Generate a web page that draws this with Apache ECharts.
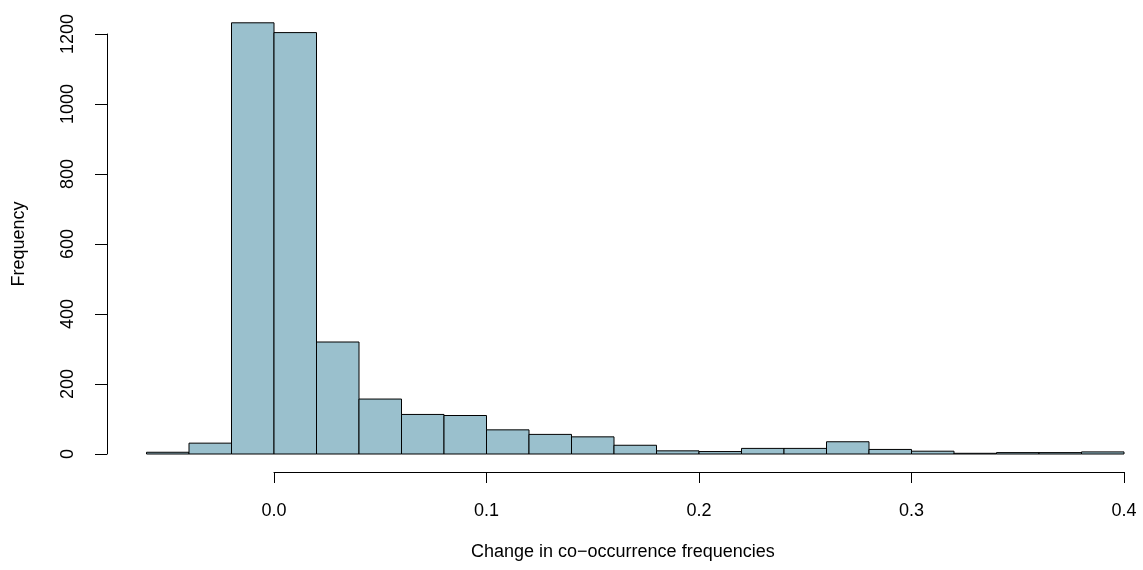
<!DOCTYPE html>
<html>
<head>
<meta charset="utf-8">
<script src="https://cdn.jsdelivr.net/npm/echarts@6/dist/echarts.min.js"></script>
<style>
  html, body { margin: 0; padding: 0; background: #fff; }
  #chart { width: 1143px; height: 570px; }
</style>
</head>
<body>
<div id="chart"></div>
<script>
// histogram bin edges (width 0.02) and counts per bin
const binEdges = [-0.06, -0.04, -0.02, 0.00, 0.02, 0.04, 0.06, 0.08, 0.10, 0.12, 0.14, 0.16,
  0.18, 0.20, 0.22, 0.24, 0.26, 0.28, 0.30, 0.32, 0.34, 0.36, 0.38, 0.40];
const counts = [5, 31, 1232, 1204, 320, 157, 113, 110, 69, 56, 49, 25,
  9, 7, 16, 16, 35, 13, 8, 2, 4, 4, 6];
const xTicks = [0, 0.1, 0.2, 0.3, 0.4];
const yTicks = [0, 200, 400, 600, 800, 1000, 1200];

const xLabel = 'Change in co\u2212occurrence frequencies';
const yLabel = 'Frequency';

const font = "'Liberation Sans', Arial, Helvetica, sans-serif";

const data = counts.map((c, i) => [binEdges[i], binEdges[i + 1], c]);

const chartDom = document.getElementById('chart');
const myChart = echarts.init(chartDom, null, { renderer: 'canvas' });

const option = {
    animation: false,
    backgroundColor: '#fff',
    textStyle: { fontFamily: font, color: '#000' },
    title: {
        text: xLabel,
        left: 466,
        top: 538,
        textStyle: { fontFamily: font, fontSize: 18, fontWeight: 'normal', color: '#000' },
    },
    grid: { left: 274, right: 19, top: 34, bottom: 116, outerBoundsMode: 'none', containLabel: false },
    xAxis: {
        type: 'value',
        min: xTicks[0],
        max: xTicks[xTicks.length - 1],
        interval: 0.1,
        offset: 18,
        axisLine: { onZero: false, lineStyle: { color: '#000', width: 1 } },
        axisTick: { length: 11, lineStyle: { color: '#000' } },
        axisLabel: {
            margin: 30,
            fontSize: 18,
            color: '#000',
            fontFamily: font,
            formatter: (v) => v.toFixed(1),
        },
        splitLine: { show: false },
    },
    yAxis: {
        type: 'value',
        min: yTicks[0],
        max: yTicks[yTicks.length - 1],
        interval: 200,
        offset: 167,
        name: yLabel,
        nameLocation: 'middle',
        nameRotate: 90,
        nameGap: 79,
        nameTextStyle: { fontSize: 18, color: '#000', fontFamily: font },
        axisLine: { show: true, onZero: false, lineStyle: { color: '#000', width: 1 } },
        axisTick: { show: true, length: 12, lineStyle: { color: '#000' } },
        axisLabel: {
            rotate: 90,
            margin: 30,
            fontSize: 18,
            color: '#000',
            fontFamily: font,
            formatter: (v) => String(v),
        },
        splitLine: { show: false },
    },
    series: [
        {
            type: 'custom',
            clip: false,
            data: data,
            encode: { x: [0, 1], y: 2 },
            renderItem: (params, api) => {
                const p0 = api.coord([api.value(0), api.value(2)]);
                const p1 = api.coord([api.value(1), 0]);
                return {
                    type: 'rect',
                    shape: { x: p0[0], y: p0[1], width: p1[0] - p0[0], height: p1[1] - p0[1] },
                    style: { fill: '#9AC0CD', stroke: '#000', lineWidth: 1 },
                };
            },
        },
    ],
};
myChart.setOption(option);
</script>
</body>
</html>
